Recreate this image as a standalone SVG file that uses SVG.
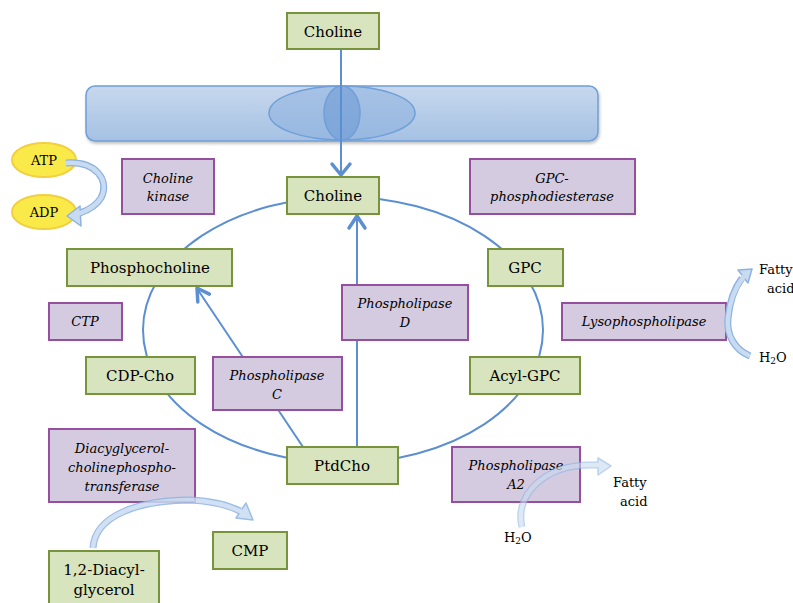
<svg xmlns="http://www.w3.org/2000/svg" width="793" height="603" viewBox="0 0 793 603">
<defs>
<linearGradient id="mem" x1="0" y1="0" x2="0" y2="1">
<stop offset="0" stop-color="#c7d8ee"/>
<stop offset="1" stop-color="#a5c1e3"/>
</linearGradient>
<filter id="sh" x="-10%" y="-10%" width="130%" height="140%">
<feDropShadow dx="1" dy="2" stdDeviation="1.5" flood-color="#000" flood-opacity="0.25"/>
</filter>
</defs>
<style>
.g rect{fill:#d8e4bd;stroke:#77933c;stroke-width:2}
.p rect{fill:#d5cbe0;stroke:#964e9e;stroke-width:2}
.g text{font-family:"DejaVu Serif","Liberation Serif",serif;font-size:15px;fill:#000;text-anchor:middle}
.p text{font-family:"DejaVu Serif","Liberation Serif",serif;font-size:13px;font-style:italic;fill:#000;text-anchor:middle}
.t{font-family:"DejaVu Serif","Liberation Serif",serif;font-size:13px;fill:#000}
.ln{fill:none;stroke:#5b8fd2;stroke-width:2}
.ah{fill:none;stroke:#5b8fd2;stroke-width:3.5;stroke-linecap:round;stroke-linejoin:round}
.bo{fill:none;stroke:#8db3e2;stroke-width:7;stroke-linecap:butt}
.bi{fill:none;stroke:#c9dbf1;stroke-width:4.5;stroke-linecap:butt}
.bh{fill:#c9dbf1;stroke:#8db3e2;stroke-width:1.5;stroke-linejoin:round}
.y{fill:#f9ea4a;stroke:#f2cf3e;stroke-width:2}
</style>

<g id="membrane">
<rect x="86" y="86" width="512" height="55" rx="9" fill="url(#mem)" stroke="#6f9fd8" stroke-width="1.5" filter="url(#sh)"/>
<ellipse cx="342" cy="113" rx="73" ry="27" fill="#8db1df" fill-opacity="0.55" stroke="#6f9fd8" stroke-width="1.5"/>
<ellipse cx="342" cy="113" rx="18" ry="27" fill="#6f9bd6" fill-opacity="0.6" stroke="#6f9fd8" stroke-width="1.5"/>
</g>

<g id="connectors">
<ellipse class="ln" cx="343" cy="330" rx="200" ry="133"/>
<line class="ln" x1="341" y1="49" x2="341" y2="174"/>
<path class="ah" d="M332,164 L341,175 L350,164"/>
<line class="ln" x1="357" y1="447" x2="357" y2="217"/>
<path class="ah" d="M349,228 L357,216 L365,228"/>
<line class="ln" x1="303" y1="447" x2="198" y2="290"/>
<path class="ah" d="M209.4,294.1 L197,288 L197.8,301.9"/>
</g>

<g id="atp"><ellipse class="y" cx="44" cy="160" rx="32" ry="17"/><text class="t" x="44" y="165" text-anchor="middle">ATP</text></g>
<g id="adp"><ellipse class="y" cx="44" cy="212" rx="32" ry="17"/><text class="t" x="44" y="217" text-anchor="middle">ADP</text></g>

<g id="choline-top" class="g"><rect x="287" y="13" width="92" height="36"/><text x="333" y="37">Choline</text></g>
<g id="choline" class="g"><rect x="287" y="177" width="92" height="37"/><text x="333" y="201">Choline</text></g>
<g id="phosphocholine" class="g"><rect x="67" y="249" width="165" height="37"/><text x="150" y="273">Phosphocholine</text></g>
<g id="cdp-cho" class="g"><rect x="86" y="357" width="109" height="37"/><text x="140" y="381">CDP-Cho</text></g>
<g id="ptdcho" class="g"><rect x="287" y="447" width="111" height="37"/><text x="342" y="471">PtdCho</text></g>
<g id="gpc" class="g"><rect x="488" y="249" width="75" height="37"/><text x="525" y="273">GPC</text></g>
<g id="acyl-gpc" class="g"><rect x="470" y="357" width="110" height="37"/><text x="525" y="381">Acyl-GPC</text></g>
<g id="cmp" class="g"><rect x="213" y="532" width="74" height="37"/><text x="250" y="556">CMP</text></g>
<g id="diacylglycerol" class="g"><rect x="49" y="551" width="110" height="62"/><text x="104" y="575">1,2-Diacyl-</text><text x="104" y="595">glycerol</text></g>

<g id="choline-kinase" class="p"><rect x="122" y="159" width="92" height="55"/><text x="168" y="183">Choline</text><text x="168" y="201">kinase</text></g>
<g id="gpc-phosphodiesterase" class="p"><rect x="470" y="159" width="165" height="55"/><text x="552" y="183">GPC-</text><text x="552" y="201">phosphodiesterase</text></g>
<g id="ctp" class="p"><rect x="49" y="303" width="73" height="37"/><text x="85" y="326">CTP</text></g>
<g id="lysophospholipase" class="p"><rect x="562" y="303" width="164" height="37"/><text x="644" y="326">Lysophospholipase</text></g>
<g id="phospholipase-d" class="p"><rect x="342" y="285" width="126" height="55"/><text x="405" y="308">Phospholipase</text><text x="405" y="327">D</text></g>
<g id="phospholipase-c" class="p"><rect x="213" y="357" width="129" height="53"/><text x="277" y="380">Phospholipase</text><text x="277" y="399">C</text></g>
<g id="dag-transferase" class="p"><rect x="49" y="429" width="146" height="73"/><text x="122" y="453">Diacyglycerol-</text><text x="122" y="472">cholinephospho-</text><text x="122" y="491">transferase</text></g>
<g id="phospholipase-a2" class="p"><rect x="452" y="447" width="128" height="55"/><text x="516" y="470">Phospholipase</text><text x="516" y="489">A2</text></g>

<g id="labels">
<text class="t" x="759" y="274">Fatty</text>
<text class="t" x="767" y="293">acid</text>
<text class="t" x="759" y="362">H<tspan font-size="9" dy="2">2</tspan><tspan dy="-2">O</tspan></text>
<text class="t" x="613" y="487">Fatty</text>
<text class="t" x="620" y="506">acid</text>
<text class="t" x="504" y="542">H<tspan font-size="9" dy="2">2</tspan><tspan dy="-2">O</tspan></text>
</g>

<g id="reaction-arrows">
<!-- ATP to ADP -->
<path class="bo" d="M66,163 C96,161 110,180 101,198 C96,206 89,210 80,213"/>
<polygon class="bh" points="67,216 80,206 81,226"/>
<path class="bi" d="M66,163 C96,161 110,180 101,198 C96,206 89,210 78,214"/>
<!-- Diacylglycerol to CMP -->
<g opacity="0.85">
<path class="bo" d="M93,548 C95,515 140,500 190,500 C212,501 228,505 240,511"/>
<polygon class="bh" points="253,520 236,518 246,503"/>
<path class="bi" d="M93,548 C95,515 140,500 190,500 C212,501 228,505 242,512"/>
</g>
<!-- PLA2: H2O to fatty acid -->
<g opacity="0.6">
<path class="bo" d="M522,527 C514,495 545,465 590,465 L598,465"/>
<polygon class="bh" points="611,466 598,458 598,475"/>
<path class="bi" d="M522,527 C514,495 545,465 590,465 L600,465"/>
</g>
<!-- Lysophospholipase: H2O to fatty acid -->
<path class="bo" d="M750,356 C735,350 726,335 728,318 C730,298 736,286 742,278"/>
<polygon class="bh" points="752,269 738,270 748,283"/>
<path class="bi" d="M750,356 C735,350 726,335 728,318 C730,298 736,286 744,276"/>
</g>
</svg>
